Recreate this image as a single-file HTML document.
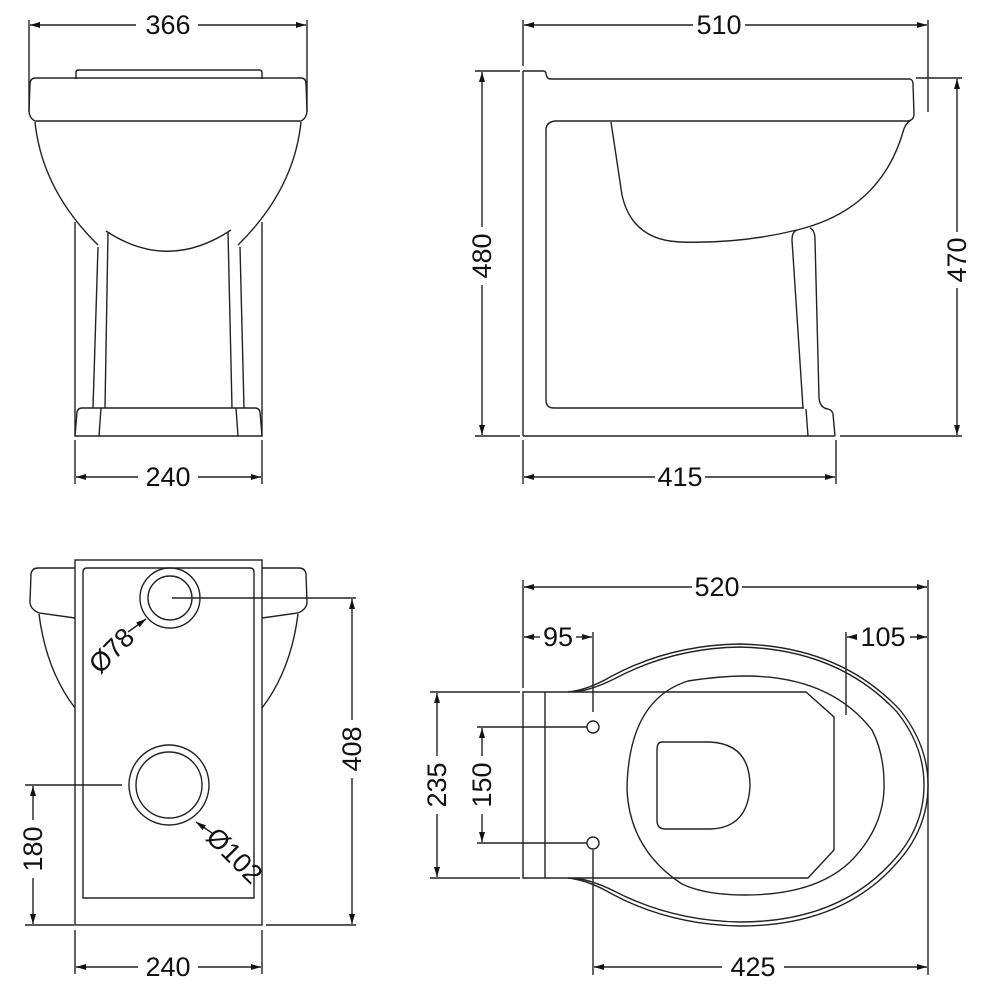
<!DOCTYPE html>
<html><head><style>
html,body{margin:0;padding:0;background:#fff;}
svg{display:block;}
text{font-family:"Liberation Sans","DejaVu Sans",sans-serif;font-size:27px;fill:#111;}
</style></head><body>
<svg width="1000" height="1000" viewBox="0 0 1000 1000" xmlns="http://www.w3.org/2000/svg">
<defs>
<marker id="a" viewBox="0 0 10 6" refX="10" refY="3" markerWidth="10" markerHeight="6" markerUnits="userSpaceOnUse" orient="auto-start-reverse"><path d="M0,0 L10,3 L0,6 z" fill="#111"/></marker>
</defs>
<g fill="none" stroke="#222" stroke-width="1.4">
<line x1="29" y1="20" x2="29" y2="112"/><line x1="307" y1="20" x2="307" y2="112"/>
<line x1="30" y1="25" x2="136" y2="25" marker-start="url(#a)"/><line x1="198" y1="25" x2="306" y2="25" marker-end="url(#a)"/>
<path d="M76,79 L76,72 Q76,70 79,70 L259,70 Q262,70 262,73 L262,79"/>
<path d="M36,78 L301,78 Q306,78 306,84 L307,110 Q307,118 301,121 L35,121 Q29,118 29,110 L30,84 Q30,78 36,78 Z"/>
<path d="M35,122 Q42,190 98,245"/><path d="M301,122 Q294,190 238,245"/>
<path d="M106,231 Q168,272 231,230"/>
<line x1="75" y1="222" x2="75" y2="436"/><line x1="262" y1="222" x2="262" y2="436"/>
<path d="M98,247 L93,408"/><path d="M108,232 L105,408"/><path d="M228,232 L232,408"/><path d="M240,247 L244,408"/>
<path d="M75,436 L77,412 Q78,408 82,408 L255,408 Q259,408 260,412 L262,436 Z"/>
<line x1="101" y1="408" x2="99" y2="436"/><line x1="236" y1="408" x2="238" y2="436"/>
<line x1="75" y1="440" x2="75" y2="484"/><line x1="262" y1="440" x2="262" y2="484"/>
<line x1="76" y1="477" x2="138" y2="477" marker-start="url(#a)"/><line x1="198" y1="477" x2="261" y2="477" marker-end="url(#a)"/>

<line x1="523" y1="20" x2="523" y2="66"/><line x1="928" y1="20" x2="928" y2="112"/>
<line x1="524" y1="25" x2="693" y2="25" marker-start="url(#a)"/><line x1="745" y1="25" x2="927" y2="25" marker-end="url(#a)"/>
<path d="M523,71 L543,71 Q546,71 546,74 L547,77 Q548,79 551,79 L910,79 Q913,80 913,84 L914,114 Q914,120 908,121 L555,121"/>
<line x1="523" y1="71" x2="523" y2="436"/>
<path d="M555,121 Q546,122 546,130 L546,400 Q546,408 554,408 L804,408"/>
<path d="M611,122 L622,195 Q632,240 680,242 Q740,244 797,230 Q880,210 903,132 Q905,124 910,121"/>
<path d="M797,230 Q792,232 792,240 L803,408"/><path d="M810,228 Q815,230 815,240 L819,398 Q820,408 828,409 Q832,410 833,414 L835,436"/>
<line x1="806" y1="409" x2="808" y2="436"/>
<line x1="523" y1="436" x2="835" y2="436"/>
<line x1="475" y1="71" x2="520" y2="71"/><line x1="475" y1="436" x2="520" y2="436"/>
<line x1="482" y1="72" x2="482" y2="227" marker-start="url(#a)"/><line x1="482" y1="285" x2="482" y2="435" marker-end="url(#a)"/>
<line x1="916" y1="78" x2="962" y2="78"/><line x1="840" y1="436" x2="962" y2="436"/>
<line x1="957" y1="79" x2="957" y2="232" marker-start="url(#a)"/><line x1="957" y1="288" x2="957" y2="435" marker-end="url(#a)"/>
<line x1="523" y1="440" x2="523" y2="484"/><line x1="836" y1="440" x2="836" y2="484"/>
<line x1="524" y1="477" x2="655" y2="477" marker-start="url(#a)"/><line x1="705" y1="477" x2="835" y2="477" marker-end="url(#a)"/>

<rect x="75" y="560" width="187" height="365"/>
<path d="M83,898 L83,572 Q83,568 87,568 L250,568 Q254,568 254,572 L254,898 Z"/>
<path d="M75,618 L39,613 Q30,609 30,602 L31,574 Q32,568 38,568 L75,568"/>
<path d="M39,614 Q46,670 75,708"/>
<path d="M262,618 L298,613 Q307,609 307,602 L306,574 Q305,568 299,568 L262,568"/>
<path d="M298,614 Q291,670 262,708"/>
<circle cx="170" cy="598" r="30"/><circle cx="170" cy="598" r="22"/>
<circle cx="169" cy="785" r="40"/><circle cx="169" cy="785" r="33"/>
<line x1="172" y1="598" x2="356" y2="598"/>
<line x1="25" y1="785" x2="122" y2="785"/>
<line x1="266" y1="925" x2="356" y2="925"/><line x1="25" y1="925" x2="74" y2="925"/>
<line x1="352" y1="599" x2="352" y2="720" marker-start="url(#a)"/><line x1="352" y1="778" x2="352" y2="924" marker-end="url(#a)"/>
<line x1="33" y1="786" x2="33" y2="820" marker-start="url(#a)"/><line x1="33" y1="878" x2="33" y2="924" marker-end="url(#a)"/>
<line x1="128" y1="632" x2="146" y2="619" marker-end="url(#a)"/>
<line x1="212" y1="833" x2="196" y2="822" marker-end="url(#a)"/>
<line x1="75" y1="930" x2="75" y2="974"/><line x1="262" y1="930" x2="262" y2="974"/>
<line x1="76" y1="967" x2="138" y2="967" marker-start="url(#a)"/><line x1="198" y1="967" x2="261" y2="967" marker-end="url(#a)"/>

<line x1="523" y1="580" x2="523" y2="688"/><line x1="928" y1="580" x2="928" y2="975"/>
<line x1="524" y1="587" x2="692" y2="587" marker-start="url(#a)"/><line x1="742" y1="587" x2="927" y2="587" marker-end="url(#a)"/>
<line x1="524" y1="637" x2="540" y2="637" marker-start="url(#a)"/><line x1="576" y1="637" x2="592" y2="637" marker-end="url(#a)"/>
<line x1="593" y1="632" x2="593" y2="712"/>
<line x1="847" y1="637" x2="855" y2="637" marker-start="url(#a)"/><line x1="910" y1="637" x2="927" y2="637" marker-end="url(#a)"/>
<line x1="846" y1="632" x2="846" y2="715"/>
<path d="M523,692 L806,692 L834,717 L834,850 L808,878 L523,878 Z"/>
<line x1="545" y1="692" x2="545" y2="878"/>
<path d="M568,692 Q588,690 612,676 Q670,645 740,644 Q840,646 900,710 Q928,745 928,785 Q928,830 895,865 Q840,926 740,926 Q670,925 612,894 Q588,880 568,878"/>
<path d="M574,692 Q592,690 614,679 Q672,648 740,647 Q838,649 897,712 Q924,746 924,785 Q924,828 892,862 Q838,922 740,922 Q672,921 614,891 Q592,880 574,878"/>
<path d="M688,681 Q720,676 745,676 Q830,676 872,730 Q885,755 884,790 Q882,830 850,862 Q815,895 745,895 Q705,895 682,884 Q630,850 627,790 Q628,700 688,681 Z"/>
<path d="M662,742 L710,742 Q750,744 750,786 Q748,828 710,829 L665,829 Q657,829 657,820 L657,750 Q657,742 662,742 Z"/>
<circle cx="593" cy="727" r="6"/><circle cx="593" cy="843" r="6"/>
<line x1="477" y1="727" x2="587" y2="727"/><line x1="477" y1="843" x2="587" y2="843"/>
<line x1="593" y1="850" x2="593" y2="975"/>
<line x1="430" y1="692" x2="520" y2="692"/><line x1="430" y1="878" x2="520" y2="878"/>
<line x1="437" y1="693" x2="437" y2="756" marker-start="url(#a)"/><line x1="437" y1="814" x2="437" y2="877" marker-end="url(#a)"/>
<line x1="482" y1="728" x2="482" y2="756" marker-start="url(#a)"/><line x1="482" y1="814" x2="482" y2="842" marker-end="url(#a)"/>
<line x1="594" y1="967" x2="722" y2="967" marker-start="url(#a)"/><line x1="784" y1="967" x2="927" y2="967" marker-end="url(#a)"/>
</g>
<g text-anchor="middle">
<text x="168" y="34">366</text>
<text x="168" y="486">240</text>
<text x="719" y="34">510</text>
<text x="680" y="486">415</text>
<text transform="translate(491,256) rotate(-90)">480</text>
<text transform="translate(966,260) rotate(-90)">470</text>
<text transform="translate(361,749) rotate(-90)">408</text>
<text transform="translate(42,849) rotate(-90)">180</text>
<text transform="translate(118,657) rotate(-45)">Ø78</text>
<text transform="translate(228,862) rotate(45)">Ø102</text>
<text x="168" y="976">240</text>
<text x="717" y="596">520</text>
<text x="558" y="646">95</text>
<text x="883" y="646">105</text>
<text transform="translate(446,785) rotate(-90)">235</text>
<text transform="translate(491,785) rotate(-90)">150</text>
<text x="753" y="976">425</text>
</g>
</svg>
</body></html>
